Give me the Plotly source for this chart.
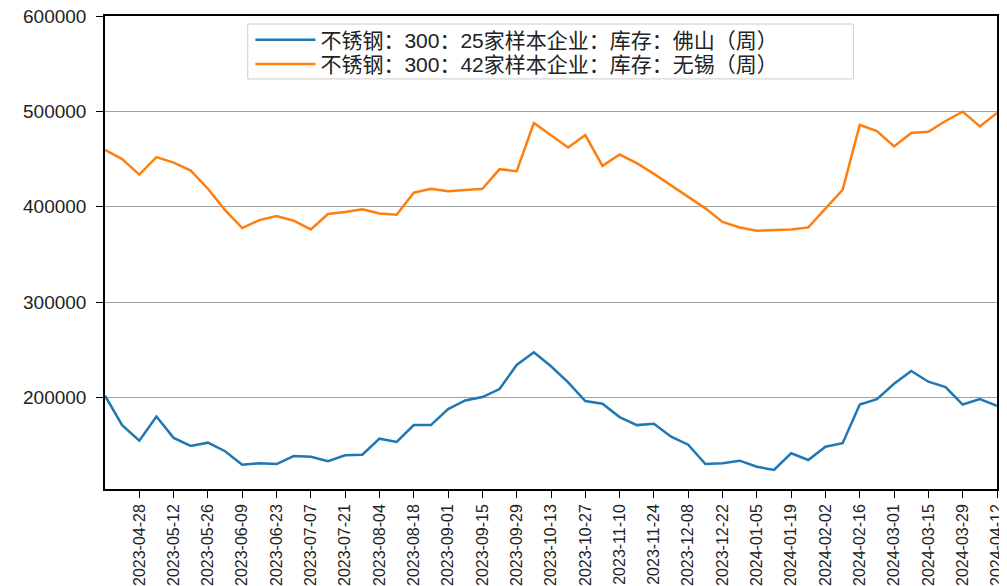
import pandas as pd
import plotly.graph_objects as go

dates = pd.date_range("2023-04-14", "2024-04-12", freq="7D")

foshan = [201800, 171000, 154700, 180000, 157600, 149200, 152600, 143600, 129500, 130900,
          130200, 138600, 137900, 133100, 139400, 140000, 156800, 153400, 171000, 171000,
          187800, 196800, 200400, 208800, 234100, 247400, 232700, 215800, 196200, 193400,
          179400, 171000, 172400, 158900, 150500, 130200, 130900, 133700, 127400, 123900,
          141400, 134400, 148400, 152000, 192600, 198300, 214400, 227700, 216500, 210900,
          192600, 198300, 191300]

wuxi = [459700, 450000, 433700, 452000, 446300, 437900, 418900, 396500, 377600, 386000,
        390200, 385300, 376200, 392300, 394400, 397300, 393000, 391600, 414700, 418900,
        416200, 417600, 418900, 439400, 437300, 487800, 475000, 462100, 475100, 442800,
        454700, 445700, 434400, 422500, 410500, 398300, 384000, 378300, 374800, 375500,
        376200, 378300, 397900, 417600, 485700, 479400, 463200, 477300, 478600, 489900,
        499700, 484200, 498300]

names = ["不锈钢：300：25家样本企业：库存：佛山（周）",
         "不锈钢：300：42家样本企业：库存：无锡（周）"]

tick_labels = ["2023-04-28", "2023-05-12", "2023-05-26", "2023-06-09", "2023-06-23",
               "2023-07-07", "2023-07-21", "2023-08-04", "2023-08-18", "2023-09-01",
               "2023-09-15", "2023-09-29", "2023-10-13", "2023-10-27", "2023-11-10",
               "2023-11-24", "2023-12-08", "2023-12-22", "2024-01-05", "2024-01-19",
               "2024-02-02", "2024-02-16", "2024-03-01", "2024-03-15", "2024-03-29",
               "2024-04-12"]

y_ticks = [200000, 300000, 400000, 500000, 600000]

fig = go.Figure()
fig.add_trace(go.Scatter(x=dates, y=foshan, mode="lines", name=names[0],
                         line=dict(color="#1f77b4", width=2.5), legend="legend"))
fig.add_trace(go.Scatter(x=dates, y=wuxi, mode="lines", name=names[1],
                         line=dict(color="#ff7f0e", width=2.5), legend="legend2"))

legend_font = dict(family="Liberation Sans, Noto Sans CJK SC, sans-serif",
                   size=21, color="#222")
legend_common = dict(x=0.163, xanchor="left", yanchor="middle",
                     bgcolor="rgba(0,0,0,0)", borderwidth=0,
                     itemwidth=60, font=legend_font)

# page body has an 8px margin, so the figure is sized to fit the 1007x586 window
fig.update_layout(
    width=999, height=578,
    margin=dict(l=97, r=10, t=8, b=97, autoexpand=False),
    paper_bgcolor="white", plot_bgcolor="white",
    font=dict(family="Liberation Sans, Arial, sans-serif", color="#222"),
    showlegend=True,
    legend=dict(y=0.949, **legend_common),
    legend2=dict(y=0.898, **legend_common),
    shapes=[dict(type="rect", xref="paper", yref="paper",
                 x0=0.160, x1=0.839, y0=0.867, y1=0.983,
                 fillcolor="white", line=dict(color="#cccccc", width=1),
                 layer="above")],
)
fig.update_xaxes(
    type="date", automargin=False,
    range=[dates[0], dates[-1]],
    tickvals=pd.to_datetime(tick_labels), ticktext=tick_labels,
    tickangle=-90, tickfont=dict(size=16),
    ticks="outside", ticklen=7, tickcolor="black",
    showline=True, linecolor="black", linewidth=1.5, mirror=True,
    showgrid=False, zeroline=False, ticklabeloverflow="allow",
)
fig.update_yaxes(
    automargin=False,
    range=[104000, 600000],
    tickvals=y_ticks, ticktext=[str(v) for v in y_ticks],
    tickfont=dict(size=19), ticklabelstandoff=6,
    ticks="outside", ticklen=7, tickcolor="black",
    showline=True, linecolor="black", linewidth=1.5, mirror=True,
    showgrid=True, gridcolor="#a0a0a0", gridwidth=1, zeroline=False,
    ticklabeloverflow="allow",
)

fig.write_html("out.html")
